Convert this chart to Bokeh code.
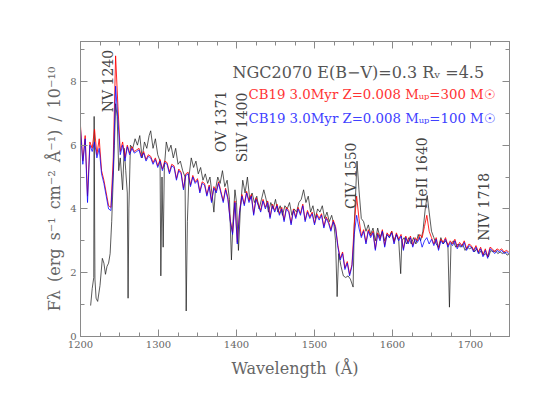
import numpy as np
from bokeh.plotting import figure
from bokeh.models import Range1d, LinearAxis, Label, SingleIntervalTicker
from bokeh.embed import file_html
from bokeh.resources import INLINE

# ---- data ----
model_start = 1200
model_step = 3
blue_flux = [
    6.5, 5.4, 6.2, 4.2, 6.0, 5.8, 6.1, 5.6, 5.9, 5.1,
    4.8, 4.4, 4.0, 3.95, 5.2, 7.85, 6.8, 5.7, 6.0, 5.5,
    5.95, 5.7, 5.9, 5.75, 5.8, 5.85, 5.6, 5.75, 5.5, 5.65,
    5.6, 5.4, 5.55, 5.3, 5.5, 5.2, 5.45, 5.4, 5.1, 5.35,
    5.3, 4.9, 5.2, 5.1, 4.6, 5.05, 5.1, 4.7, 5.0, 4.8,
    4.9, 4.5, 4.8, 4.75, 4.4, 4.7, 4.2, 4.65, 4.5, 4.8,
    4.5, 4.2, 4.6, 4.3, 3.6, 3.2, 4.2, 2.9, 3.9, 4.4,
    4.1, 4.5, 4.2, 4.4, 3.8, 4.3, 4.1, 3.9, 4.25, 4.0,
    4.2, 3.7, 4.1, 3.9, 4.1, 3.8, 4.0, 3.6, 4.0, 3.9,
    3.5, 3.95, 3.7, 4.0, 3.8, 4.1, 3.6, 3.9, 3.7, 3.85,
    3.5, 3.8, 3.65, 3.8, 3.4, 3.7, 3.55, 3.3, 3.6, 3.4,
    2.8, 2.4, 2.6, 2.1, 2.3, 1.9, 2.2, 3.2, 3.8, 3.4,
    3.1, 3.3, 2.9, 3.3, 3.1, 3.25, 2.7, 3.2, 3.0, 3.3,
    2.8, 3.2, 3.1, 3.25, 2.9, 3.2, 3.0, 3.15, 2.7, 3.1,
    2.9, 3.1, 2.8, 3.05, 2.95, 3.1, 2.8, 3.0, 3.1, 2.9,
    3.05, 2.85, 3.05, 2.7, 3.0, 2.9, 3.05, 2.8, 2.95, 2.85,
    3.0, 2.75, 2.9, 2.8, 2.95, 2.7, 2.85, 2.8, 2.65, 2.8,
    2.6, 2.75, 2.5, 2.7, 2.45, 2.75, 2.7, 2.6, 2.7, 2.65,
    2.7, 2.6, 2.65, 2.6,
]
red_flux = [
    6.6, 5.5, 6.3, 4.4, 6.1, 5.9, 6.5, 5.7, 6.2, 5.2,
    4.9, 4.5, 4.1, 4.05, 5.6, 8.8, 7.2, 5.8, 6.1, 5.6,
    6.0, 5.75, 5.95, 5.8, 5.85, 5.9, 5.65, 5.8, 5.55, 5.7,
    5.65, 5.45, 5.6, 5.35, 5.55, 5.25, 5.5, 5.45, 5.15, 5.4,
    5.35, 4.95, 5.25, 5.15, 4.65, 5.1, 5.15, 4.75, 5.05, 4.85,
    4.95, 4.55, 4.85, 4.8, 4.45, 4.75, 4.25, 4.7, 4.55, 4.85,
    4.55, 4.25, 4.65, 4.35, 3.65, 3.25, 4.25, 2.95, 3.95, 4.45,
    4.15, 4.55, 4.25, 4.45, 3.85, 4.35, 4.15, 3.95, 4.3, 4.05,
    4.25, 3.75, 4.15, 3.95, 4.15, 3.85, 4.05, 3.65, 4.05, 3.95,
    3.55, 4.0, 3.75, 4.05, 3.85, 4.15, 3.65, 3.95, 3.75, 3.9,
    3.55, 3.85, 3.7, 3.85, 3.45, 3.75, 3.6, 3.35, 3.65, 3.45,
    2.85, 2.45, 2.65, 2.15, 2.35, 1.95, 2.25, 3.5, 4.4, 3.7,
    3.15, 3.35, 2.95, 3.35, 3.15, 3.3, 2.75, 3.25, 3.05, 3.35,
    2.85, 3.25, 3.15, 3.3, 2.95, 3.25, 3.05, 3.2, 2.75, 3.15,
    2.95, 3.15, 2.85, 3.1, 3.0, 3.2, 3.1, 3.45, 3.8, 3.3,
    3.1, 2.9, 3.1, 2.75, 3.05, 2.95, 3.1, 2.85, 3.0, 2.9,
    3.05, 2.8, 2.95, 2.85, 3.0, 2.75, 2.9, 2.85, 2.7, 2.85,
    2.65, 2.8, 2.55, 2.75, 2.5, 2.8, 2.75, 2.65, 2.75, 2.7,
    2.75, 2.65, 2.7, 2.65,
]
model_wave = [model_start + model_step * i for i in range(len(blue_flux))]

obs_wave = [
    1213, 1215, 1217, 1217.5, 1218.5, 1220, 1222, 1225, 1228, 1230,
    1232, 1234, 1236, 1238, 1240, 1242, 1243.5, 1245, 1247, 1249,
    1251, 1254, 1256, 1258, 1260, 1261, 1262, 1264, 1267, 1270,
    1273, 1276, 1279, 1282, 1285, 1288, 1290, 1293, 1296, 1299,
    1302, 1303, 1304.5, 1306, 1307.5, 1310, 1313, 1316, 1319, 1322,
    1325, 1328, 1331, 1334, 1335.5, 1337, 1339, 1342, 1345, 1348,
    1351, 1354, 1357, 1360, 1363, 1366, 1369, 1371, 1373, 1376,
    1379, 1382, 1385, 1388, 1391, 1393.5, 1395.5, 1398, 1400, 1402.5,
    1405, 1408, 1411, 1414, 1417, 1420, 1423, 1426, 1429, 1432,
    1435, 1438, 1441, 1444, 1447, 1450, 1453, 1456, 1459, 1462,
    1465, 1468, 1471, 1474, 1477, 1480, 1483, 1486, 1489, 1492,
    1495, 1498, 1501, 1504, 1507, 1510, 1513, 1516, 1519, 1522,
    1525, 1527, 1529, 1531, 1534, 1537, 1540, 1543, 1546, 1549.5,
    1551, 1554.5, 1557, 1560, 1563, 1566, 1569, 1572, 1575, 1578,
    1581, 1584, 1587, 1590, 1593, 1596, 1599, 1602, 1605, 1608,
    1610.5, 1612, 1615, 1618, 1621, 1624, 1627, 1630, 1633, 1636,
    1639, 1642, 1644.5, 1647, 1650, 1653, 1656, 1659, 1662, 1665,
    1668, 1671, 1673, 1675, 1678, 1681, 1684, 1687, 1690, 1693,
    1696, 1699, 1702, 1705, 1708, 1711, 1714, 1717, 1720, 1723,
    1726, 1729, 1732, 1735, 1738, 1741, 1744, 1747, 1750,
]
obs_flux = [
    0.97, 1.5, 1.85, 6.9, 1.8, 1.2, 1.1, 1.6, 2.45, 2.3,
    1.95, 2.2, 2.3, 2.6, 3.6, 5.0, 6.0, 7.3, 6.9, 5.2,
    5.6, 4.6, 5.9, 5.2, 4.5, 1.2, 4.0, 6.0, 5.9, 6.2,
    6.0, 6.3, 5.6, 6.1, 5.9, 6.3, 6.45, 5.9, 6.2, 5.7,
    5.5, 1.9, 5.0, 2.8, 5.3, 6.1, 5.8, 6.0, 5.6, 5.9,
    5.4, 5.5, 5.2, 5.0, 0.8, 3.6, 5.0, 5.6, 5.3, 5.5,
    5.1, 5.3, 4.9, 5.1, 4.8, 5.0, 4.4, 3.9, 4.6, 5.0,
    4.8, 5.2, 4.7, 4.9, 4.3, 2.4, 3.6, 4.6, 4.2, 2.7,
    4.0, 4.9, 4.5, 5.0, 4.3, 4.5, 4.2, 4.4, 4.0, 4.3,
    4.6, 4.3, 3.9, 4.2, 4.0, 4.3, 3.9, 4.1, 3.8, 4.1,
    4.0, 4.2, 3.8, 4.0, 3.9, 4.2, 4.3, 4.6, 4.2, 4.4,
    3.9, 4.1, 3.7, 4.0, 3.9, 4.1, 3.7, 3.9, 3.6, 3.8,
    3.5, 3.0, 1.25, 2.6, 2.2, 1.9, 1.85, 1.9, 1.8, 1.55,
    3.5, 5.5, 4.6, 3.7, 3.6, 3.3, 3.5, 3.2, 3.4, 3.0,
    3.4, 3.1, 3.3, 3.0, 3.2, 3.1, 3.3, 3.0, 3.2, 3.0,
    1.97, 3.0, 3.1, 2.9, 3.1, 2.9, 3.1, 2.9, 3.2, 3.0,
    3.3, 4.0, 4.42, 3.9, 3.3, 3.1, 2.9, 2.8, 3.1, 2.9,
    3.0, 2.9, 0.92, 2.9, 3.0, 2.8, 2.9, 2.8, 2.9, 2.7,
    2.8, 2.75, 2.8, 2.65, 2.75, 2.6, 2.7, 2.55, 2.6, 2.5,
    2.7, 2.65, 2.7, 2.6, 2.65, 2.6, 2.65, 2.55, 2.6,
]

x_ticks_interval = 100
y_ticks_interval = 2

# ---- figure ----
SERIF = "DejaVu Serif"
GRAY = "#8a8a8a"
TXT = "#666666"
SP = "\u2002"

p = figure(frame_width=429, frame_height=295,
           x_range=Range1d(1200, 1750), y_range=Range1d(0, 9.25),
           output_backend="svg", toolbar_location=None,
           min_border_left=80, min_border_right=21,
           min_border_top=41, min_border_bottom=72,
           background_fill_color="white", border_fill_color="white")
p.grid.visible = False
p.outline_line_color = GRAY

xt = SingleIntervalTicker(interval=x_ticks_interval, num_minor_ticks=4)
yt = SingleIntervalTicker(interval=y_ticks_interval, num_minor_ticks=2)


def style_axis(ax, labels=True):
    ax.axis_line_color = GRAY
    ax.major_tick_line_color = GRAY
    ax.minor_tick_line_color = GRAY
    ax.major_tick_in = 7
    ax.major_tick_out = 0
    ax.minor_tick_in = 4
    ax.minor_tick_out = 0
    ax.major_label_text_font = SERIF
    ax.major_label_text_font_size = "10px"
    ax.major_label_text_color = TXT if labels else None
    ax.axis_label_text_font = SERIF
    ax.axis_label_text_font_size = "16px"
    ax.axis_label_text_font_style = "normal"
    ax.axis_label_text_color = TXT


p.xaxis.ticker = xt
p.yaxis.ticker = yt
style_axis(p.xaxis[0])
style_axis(p.yaxis[0])
p.xaxis.major_label_standoff = 4
p.yaxis.major_label_standoff = 4
p.xaxis.axis_label = "Wavelength" + SP + "(Å)"
p.yaxis.axis_label = SP.join(["Fλ", "(erg", "s⁻¹", "cm⁻²", "Å⁻¹)", "/", "10⁻¹⁰"])
p.xaxis.axis_label_standoff = 8
p.yaxis.axis_label_standoff = 3

top = LinearAxis(ticker=SingleIntervalTicker(interval=x_ticks_interval, num_minor_ticks=4))
style_axis(top, labels=False)
p.add_layout(top, "above")
right = LinearAxis(ticker=SingleIntervalTicker(interval=y_ticks_interval, num_minor_ticks=2))
style_axis(right, labels=False)
p.add_layout(right, "right")

# spectra
p.line(obs_wave, obs_flux, line_color="#1a1a1a", line_width=0.8, line_alpha=0.9)
p.line(model_wave, red_flux, line_color="#ff0000", line_width=1.0, line_alpha=0.85)
p.line(model_wave, blue_flux, line_color="#0000ff", line_width=1.0, line_alpha=0.75)

# header texts
p.add_layout(Label(x=1394.9, y=8.28, text="NGC2070 E(B−V)=0.3 Rᵥ =4.5",
                   text_font=SERIF, text_font_size="16px", text_color="#555555",
                   text_baseline="alphabetic", text_align="left"))
p.add_layout(Label(x=1415.4, y=7.59, text="CB19 3.0Myr Z=0.008 Mᵤₚ=300 M☉",
                   text_font=SERIF, text_font_size="13.3px", text_color="#ff3333",
                   text_baseline="alphabetic", text_align="left"))
p.add_layout(Label(x=1415.4, y=6.82, text="CB19 3.0Myr Z=0.008 Mᵤₚ=100 M☉",
                   text_font=SERIF, text_font_size="13.3px", text_color="#4040ff",
                   text_baseline="alphabetic", text_align="left"))

# line identifications (rotated)
for txt, lx, ly in [("NV 1240", 1235.3, 7.03), ("OV 1371", 1379.5, 5.78),
                    ("SiIV 1400", 1407.0, 5.46), ("CIV 1550", 1547.0, 4.0),
                    ("HeII 1640", 1638.0, 4.0), ("NIV 1718", 1717.0, 3.0)]:
    p.add_layout(Label(x=lx, y=ly, text=txt, angle=np.pi / 2,
                       text_font=SERIF, text_font_size="14px", text_color="#444444",
                       text_baseline="alphabetic", text_align="left"))

open("out.html", "w").write(file_html(p, INLINE))
